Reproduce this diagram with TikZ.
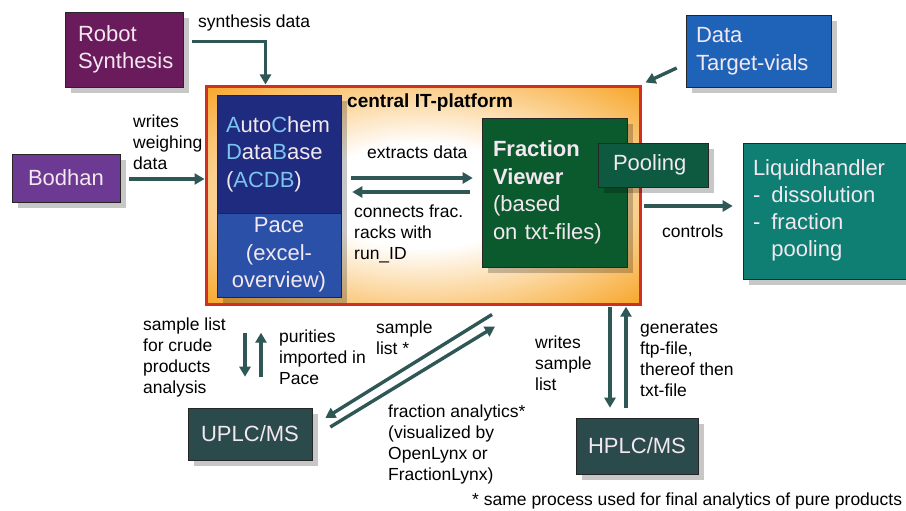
\documentclass[tikz,border=0pt]{standalone}
\usepackage{fontspec}
\setmainfont{Liberation Sans}
\usetikzlibrary{arrows.meta,calc,shadows}
\definecolor{robotc}{HTML}{6A1B5C}
\definecolor{bodhanc}{HTML}{6C3A92}
\definecolor{datac}{HTML}{1F63B8}
\definecolor{acdbc}{HTML}{1E2B7E}
\definecolor{pacec}{HTML}{2A50A8}
\definecolor{fvc}{HTML}{0B5A2E}
\definecolor{poolc}{HTML}{0E5A40}
\definecolor{liqc}{HTML}{0E7F72}
\definecolor{msc}{HTML}{2B4A4C}
\definecolor{arrc}{HTML}{2E5756}
\definecolor{platorange}{HTML}{F7A01C}
\definecolor{platred}{HTML}{D2301E}
\definecolor{boxtext}{HTML}{F3E8F0}
\definecolor{hiblue}{HTML}{7CC4F0}
\pgfdeclareradialshading{glow}{\pgfpoint{0bp}{0bp}}{color(0bp)=(white); color(12bp)=(white); color(37bp)=(platorange); color(50bp)=(platorange)}
\begin{document}
\begin{tikzpicture}[x=1pt,y=-1pt,
  box/.style={draw=black!85, line width=0.6pt, text=boxtext, align=left,
    font=\fontsize{22}{27.5}\selectfont, inner ysep=0pt,
    drop shadow={shadow xshift=6pt, shadow yshift=-6pt, fill=black, opacity=0.22}},
  lbl/.style={anchor=west, align=left, inner sep=0pt, text=black,
    font=\fontsize{17.5}{21}\selectfont},
  arr/.style={draw=arrc, line width=3.4pt, -{Triangle[length=10pt,width=11pt]}}]
\useasboundingbox (0,0) rectangle (906,511);
\fill[white] (0,0) rectangle (906,511);

% central platform
\node[draw=platred, line width=3pt, shading=glow, minimum width=434pt, minimum height=217pt, inner sep=0pt] (platform) at (423,195.5) {};
\node[lbl, font=\bfseries\fontsize{19}{22}\selectfont] (ptitle) at (347,103) {central IT-platform};

% left column inside platform
\node[box, fill=acdbc, text width=106pt, inner xsep=9pt, minimum height=118pt] (acdb) at (279,154)
  {{\color{hiblue}A}uto{\color{hiblue}C}hem\\{\color{hiblue}D}ata{\color{hiblue}B}ase\\({\color{hiblue}ACDB})};
\node[box, fill=pacec, text width=104pt, inner xsep=10pt, minimum height=84pt, align=center] (pace) at (279,255) {Pace\\(excel-\\overview)};

% fraction viewer
\node[box, fill=fvc, text width=123pt, inner xsep=11pt, minimum height=149pt] (fv) at (554.5,192.5)
  {\textbf{Fraction}\\\textbf{Viewer}\\(based\\on txt-files)};
\node[box, fill=poolc, text width=80pt, inner xsep=15pt, minimum height=44pt] (pool) at (653,165) {Pooling};

% outer boxes
\node[box, fill=robotc, text width=92pt, inner xsep=13pt, minimum height=75pt] (robot) at (124,49.5) {Robot\\Synthesis};
\node[box, fill=bodhanc, text width=76pt, inner xsep=16pt, minimum height=48pt] (bodhan) at (66,178) {Bodhan};
\node[box, fill=datac, text width=125pt, inner xsep=10pt, minimum height=72pt] (data) at (758.5,51) {Data\\Target-vials};
\node[box, fill=liqc, text width=152pt, inner xsep=10pt, minimum height=136pt, font=\fontsize{22}{27}\selectfont] (liq) at (829,211)
  {\begin{tabular}{@{}l@{\hspace{11pt}}l@{}}\multicolumn{2}{@{}l@{}}{Liquidhandler}\\-&dissolution\\-&fraction\\&pooling\end{tabular}};
\node[box, fill=msc, text width=100pt, inner xsep=12pt, minimum height=52pt, align=center] (uplc) at (250,434) {UPLC/MS};
\node[box, fill=msc, text width=98pt, inner xsep=12pt, minimum height=56pt, align=center] (hplc) at (637,446) {HPLC/MS};

% connectors
\coordinate (synthstart) at ($(robot.north east)+(9,30)$);
\draw[arr] (synthstart) -| ($(platform.north west)+(61,-1)$);
\draw[arr] ($(bodhan.east)+(9,1)$) -- ($(platform.west)+(0,-16.5)$);
\draw[arr] ($(data.west)+(-9,17)$) -- ($(platform.north east)+(4,-3)$);
\draw[arr] ($(acdb.east)+(10,24)$) -- ($(fv.west)+(-9,-14.5)$);
\draw[arr] ($(fv.west)+(-12,-0.5)$) -- ($(acdb.east)+(11,38)$);
\draw[arr] ($(platform.east)+(2,10.5)$) -- ($(liq.west)+(-10,-5)$);
\draw[arr] ($(uplc.north)+(-5,-75)$) -- ($(uplc.north)+(-5,-31)$);
\draw[arr] ($(uplc.north)+(11,-31)$) -- ($(uplc.north)+(11,-75)$);
\draw[arr] ($(platform.south)+(69,9)$) -- ($(uplc.east)+(13,-16)$);
\draw[arr] ($(uplc.east)+(18,-7)$) -- ($(platform.south)+(72,21)$);
\draw[arr] ($(hplc.north)+(-27,-111)$) -- ($(hplc.north)+(-27,-10)$);
\draw[arr] ($(hplc.north)+(-11,-10)$) -- ($(hplc.north)+(-11,-111)$);

% labels
\node[lbl] (lsynth) at (198,23) {synthesis data};
\node[lbl] (lweigh) at (133,142) {writes\\weighing\\data};
\node[lbl] (lextract) at (367,152) {extracts data};
\node[lbl] (lconnect) at (354,234) {connects frac.\\racks with\\run\_ID};
\node[lbl] (lcontrols) at (662,231) {controls};
\node[lbl] (lcrude) at (143,357.5) {sample list\\for crude\\products\\analysis};
\node[lbl] (lpur) at (279,357) {purities\\imported in\\Pace};
\node[lbl] (lsample) at (376,337.5) {sample\\list *};
\node[lbl] (lfrac) at (388,444) {fraction analytics*\\(visualized by\\OpenLynx or\\FractionLynx)};
\node[lbl] (lwrites) at (535,363) {writes\\sample\\list};
\node[lbl] (lgen) at (640,359) {generates\\ftp-file,\\thereof then\\txt-file};
\node[lbl] (lfoot) at (472,501) {* same process used for final analytics of pure products};
\end{tikzpicture}
\end{document}
